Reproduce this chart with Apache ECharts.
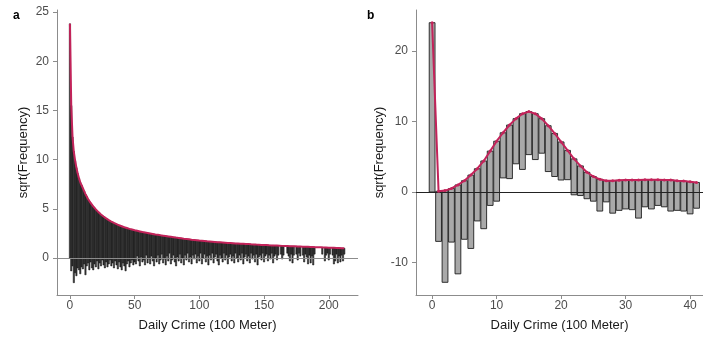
<!DOCTYPE html>
<html><head><meta charset="utf-8">
<script src="https://cdn.jsdelivr.net/npm/echarts@6/dist/echarts.min.js"></script>
<style>html,body{margin:0;padding:0;background:#fff}#c{width:703px;height:337px}</style>
</head><body><div id="c"></div>
<script>
// Panel a: expected sqrt(frequency) per count 0..212 (red curve = bar tops)
const aExpected = [23.8,15.5,12.3,10.8,9.9,9.2,8.6,8.1,7.7,7.4,7.1,6.8,6.5,6.25,6.0,5.8,5.6,5.4,5.25,5.1,
4.95,4.8,4.67,4.55,4.43,4.32,4.22,4.12,4.03,3.94,3.86,3.78,3.71,3.64,3.57,3.51,3.45,3.39,3.33,3.28,
3.23,3.18,3.13,3.09,3.05,3.01,2.97,2.93,2.9,2.86,2.83,2.80,2.77,2.74,2.71,2.68,2.65,2.62,2.60,2.57,
2.55,2.52,2.50,2.47,2.45,2.43,2.40,2.38,2.36,2.34,2.32,2.30,2.28,2.26,2.24,2.22,2.20,2.18,2.16,2.14,
2.12,2.10,2.08,2.06,2.05,2.03,2.01,1.99,1.97,1.96,1.94,1.92,1.91,1.89,1.87,1.86,1.84,1.83,1.81,1.80,
1.78,1.77,1.76,1.74,1.73,1.72,1.70,1.69,1.68,1.67,1.66,1.65,1.64,1.63,1.62,1.61,1.60,1.59,1.58,1.57,
1.56,1.55,1.54,1.53,1.53,1.52,1.51,1.50,1.49,1.49,1.48,1.47,1.46,1.45,1.45,1.44,1.43,1.42,1.42,1.41,
1.40,1.39,1.39,1.38,1.37,1.36,1.36,1.35,1.34,1.34,1.33,1.32,1.32,1.31,1.30,1.30,1.29,1.29,1.28,1.27,
1.27,1.26,1.26,1.25,1.24,1.24,1.23,1.23,1.22,1.22,1.21,1.21,1.20,1.20,1.19,1.19,1.18,1.18,1.17,1.17,
1.16,1.16,1.15,1.15,1.14,1.14,1.13,1.13,1.12,1.12,1.11,1.11,1.10,1.10,1.09,1.09,1.08,1.08,1.07,1.07,
1.06,1.06,1.05,1.05,1.04,1.04,1.03,1.03,1.02,1.02,1.01,1.01,1.00];
// Panel a: hanging bar bottoms (expected - sqrt(observed)); null = no observations
const aBottom = [0,-1.3,-0.8,-2.5,-1.5,-1.8,-1.0,-1.2,-1.6,-0.9,-1.1,-0.6,-1.7,-0.8,-0.5,-1.2,-0.4,-1.0,-1.2,-0.6,
-0.9,-0.3,-1.1,-0.5,-0.8,-0.2,-0.7,-1.0,-0.4,-0.9,-0.6,-0.2,-0.8,-0.5,-1.0,-0.3,-0.7,-1.1,-0.4,-0.9,
-1.2,-0.5,-0.8,-1.3,-0.6,-0.3,-0.9,-0.5,-0.2,-0.7,-0.4,-0.6,0.2,-0.3,-0.8,0.1,-0.4,-0.2,-0.7,0.3,
-0.5,-0.1,-0.6,0.2,-0.3,-0.8,0.0,-0.4,0.3,-0.6,-0.2,0.4,-0.5,-0.1,-0.7,0.2,-0.3,0.5,-0.6,-0.2,
0.3,-0.4,-0.8,0.1,-0.3,0.4,-0.5,0.0,-0.7,0.3,-0.2,0.5,-0.4,0.1,-0.6,0.3,-0.1,0.4,-0.5,0.2,
-0.3,0.5,-0.6,0.0,0.4,-0.4,0.2,-0.7,0.3,-0.2,0.5,-0.5,0.1,0.4,-0.3,-0.7,0.3,0.0,-0.4,0.5,
-0.2,0.3,-0.6,0.1,0.4,-0.3,0.2,-0.5,0.5,0.0,-0.4,0.3,-0.2,0.5,-0.6,0.1,0.4,-0.3,0.2,-0.5,
0.5,-0.1,0.3,-0.4,0.4,-0.7,0.1,0.3,-0.2,0.5,-0.4,0.2,0.4,-0.3,0.3,-0.1,0.5,-0.5,0.2,0.4,
-0.2,0.3,null,0.4,-0.1,0.3,null,null,0.5,0.2,-0.3,0.4,-0.5,0.3,null,0.4,-0.2,0.5,0.2,null,
0.3,-0.4,0.4,0.1,-0.6,0.3,-0.5,0.2,-0.7,0.4,null,null,null,null,null,0.4,null,-0.3,0.3,0.5,
-0.2,0.4,null,0.3,-0.6,-0.3,0.4,-0.5,0.2,-0.4,0.3,-0.3,0.4];
// Panel b: expected sqrt(frequency) per count 0..41
const bExpected = [24,0.1,0.2,0.5,1.0,1.6,2.4,3.3,4.4,5.8,7.2,8.4,9.5,10.4,11.1,11.4,11.1,10.4,9.4,8.3,
7.1,5.9,4.7,3.7,2.8,2.2,1.8,1.6,1.6,1.65,1.7,1.7,1.7,1.75,1.75,1.75,1.7,1.7,1.6,1.55,1.45,1.35];
// Panel b: hanging bar bottoms
const bBottom = [0,-7.0,-12.8,-7.1,-11.6,-6.7,-8.0,-4.1,-5.2,-1.9,-1.3,2.0,1.9,4.0,3.2,5.3,4.6,5.5,2.9,2.2,
1.7,1.75,-0.4,-0.5,-0.95,-1.3,-2.7,-1.4,-3.0,-2.6,-2.4,-2.5,-3.7,-2.1,-2.4,-1.9,-2.1,-2.7,-2.6,-2.7,-3.1,-2.3];
const aTicksX = [0,50,100,150,200];
const aTicksY = [0,5,10,15,20,25];
const bTicksX = [0,10,20,30,40];
const bTicksY = [-10,0,10,20];

function barsData(exp, bot){
  const out=[];
  for(let i=0;i<exp.length;i++){ if(bot[i]!==null) out.push([i,bot[i],exp[i]]); }
  return out;
}
function lineData(exp){ return exp.map((v,i)=>[i,v]); }
function renderer(w, fill, stroke, lw){
  return function(params, api){
    const x=api.value(0), lo=api.value(1), hi=api.value(2);
    const p1=api.coord([x-w/2,hi]), p2=api.coord([x+w/2,lo]);
    return {type:'rect', shape:{x:p1[0], y:p1[1], width:p2[0]-p1[0], height:p2[1]-p1[1]},
      style:{fill:fill, stroke:stroke, lineWidth:lw}};
  };
}
const axisCol='#8c8c8c', labCol='#4d4d4d', titleCol='#1a1a1a';
function xAxis(idx,min,max,ticks){
  return {type:'value', gridIndex:idx, min:min, max:max, name:'Daily Crime (100 Meter)', nameLocation:'middle', nameGap:24,
    nameTextStyle:{color:titleCol,fontSize:13,fontFamily:'Liberation Sans'},
    axisLine:{show:true,onZero:false,lineStyle:{color:axisCol,width:1}},
    axisTick:{show:true,length:4,lineStyle:{color:axisCol},customValues:ticks},
    axisLabel:{color:labCol,fontSize:12,fontFamily:'Liberation Sans',margin:5,customValues:ticks},
    splitLine:{show:false}};
}
function yAxis(idx,min,max,ticks,gap){
  return {type:'value', gridIndex:idx, min:min, max:max, name:'sqrt(Frequency)', nameLocation:'middle', nameGap:gap,
    nameTextStyle:{color:titleCol,fontSize:13,fontFamily:'Liberation Sans'},
    axisLine:{show:true,onZero:false,lineStyle:{color:axisCol,width:1}},
    axisTick:{show:true,length:4,lineStyle:{color:axisCol},customValues:ticks},
    axisLabel:{color:labCol,fontSize:12,fontFamily:'Liberation Sans',margin:8,customValues:ticks},
    splitLine:{show:false}};
}
const chart = echarts.init(document.getElementById('c'), null, {renderer:'canvas'});
chart.setOption({
  animation:false,
  grid:[{left:57, top:10, width:301, height:285},{left:416, top:10, width:287, height:285}],
  xAxis:[xAxis(0,-10,222.6,aTicksX), xAxis(1,-2.5,42,bTicksX)],
  yAxis:[yAxis(0,-3.75,25.2,aTicksY,27), yAxis(1,-14.6,25.8,bTicksY,30)],
  graphic:[
    {type:'text', left:13, top:10, style:{text:'a', font:'bold 12px Liberation Sans', fill:'#000'}},
    {type:'text', left:367, top:10, style:{text:'b', font:'bold 12px Liberation Sans', fill:'#000'}}
  ],
  series:[
    {type:'custom', xAxisIndex:0, yAxisIndex:0, data:barsData(aExpected,aBottom),
      renderItem:renderer(1.0,'#3e3e3e','#0a0a0a',0.5), clip:true, z:2,
      markLine:{silent:true, symbol:'none', label:{show:false}, lineStyle:{color:'#8c8c8c',width:1.2,type:'solid'}, data:[{yAxis:0}], z:3}},
    {type:'line', xAxisIndex:0, yAxisIndex:0, data:lineData(aExpected), showSymbol:false,
      lineStyle:{color:'#c3235a',width:2}, z:5},
    {type:'custom', xAxisIndex:1, yAxisIndex:1, data:barsData(bExpected,bBottom),
      renderItem:renderer(0.9,'#a9a9a9','#1e1e1e',0.9), clip:true, z:2,
      markLine:{silent:true, symbol:'none', label:{show:false}, lineStyle:{color:'#222',width:1,type:'solid'}, data:[{yAxis:0}], z:3}},
    {type:'line', xAxisIndex:1, yAxisIndex:1, data:lineData(bExpected), showSymbol:true, symbol:'circle', symbolSize:3,
      itemStyle:{color:'#c3235a'}, lineStyle:{color:'#c3235a',width:2}, z:5}
  ]
});
</script></body></html>
